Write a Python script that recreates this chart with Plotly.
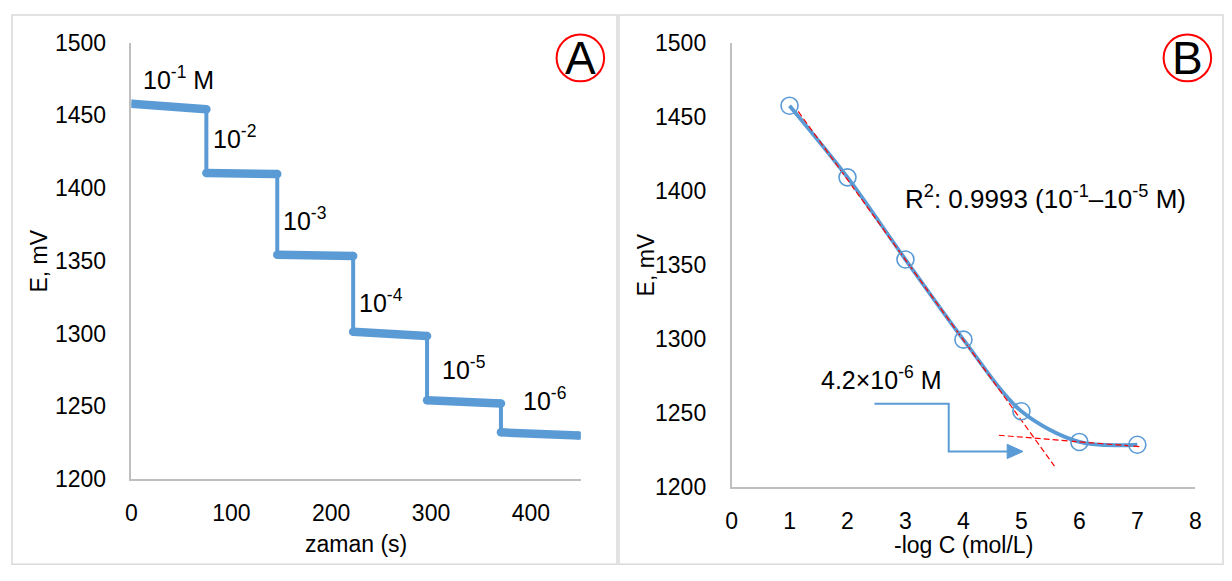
import plotly.graph_objects as go

W, H = 1232, 581
BLUE = "#5B9BD5"
FONT = "Liberation Sans"

# ---------------- Panel A data ----------------
step_times = [0, 75, 146, 222, 296, 370, 448]          # s
plateau_start = [1457.9, 1410.3, 1354.1, 1301.1, 1254.0, 1232.0]  # mV
plateau_end = [1454.1, 1409.7, 1353.3, 1298.2, 1251.8, 1229.8]    # mV
conc_labels = ["10<sup>-1</sup> M", "10<sup>-2</sup>", "10<sup>-3</sup>",
               "10<sup>-4</sup>", "10<sup>-5</sup>", "10<sup>-6</sup>"]
label_t = [9.2, 79.5, 149.8, 226.0, 309.3, 390.5]
label_e = [1476, 1435, 1379, 1322, 1276, 1255]

# ---------------- Panel B data ----------------
neg_log_c = [1, 2, 3, 4, 5, 6, 7]
potential = [1457.4, 1409.0, 1353.5, 1299.4, 1251.0, 1230.3, 1228.4]
fit1_x = [1.15, 5.57]
fit1_y = [1453.5, 1214.0]
fit2_x = [4.61, 7.07]
fit2_y = [1234.8, 1227.0]

def px(x):
    return x / W

def py(y):
    return 1 - y / H

fig = go.Figure()

# Panel A trace (steps)
ax_x, ax_y = [], []
for i in range(len(plateau_start)):
    ax_x += [step_times[i], step_times[i + 1]]
    ax_y += [plateau_start[i], plateau_end[i]]
fig.add_trace(go.Scatter(x=ax_x, y=ax_y, mode="lines",
                         line=dict(color=BLUE, width=4),
                         xaxis="x", yaxis="y", showlegend=False, hoverinfo="skip"))
for i in range(len(plateau_start)):
    fig.add_trace(go.Scatter(x=[step_times[i], step_times[i + 1]],
                             y=[plateau_start[i], plateau_end[i]],
                             mode="lines+markers",
                             line=dict(color=BLUE, width=8.5),
                             marker=dict(color=BLUE, size=8.5),
                             xaxis="x", yaxis="y", showlegend=False, hoverinfo="skip"))

# Panel B traces
fig.add_trace(go.Scatter(x=neg_log_c, y=potential, mode="lines",
                         line=dict(color=BLUE, width=3.8, shape="spline", smoothing=0.9),
                         xaxis="x2", yaxis="y2", showlegend=False))
fig.add_trace(go.Scatter(x=fit1_x, y=fit1_y, mode="lines",
                         line=dict(color="#FF0000", width=1.2, dash="6px,3px"),
                         xaxis="x2", yaxis="y2", showlegend=False))
fig.add_trace(go.Scatter(x=fit2_x, y=fit2_y, mode="lines",
                         line=dict(color="#FF0000", width=1.2, dash="6px,3px"),
                         xaxis="x2", yaxis="y2", showlegend=False))
fig.add_trace(go.Scatter(x=neg_log_c, y=potential, mode="markers",
                         marker=dict(symbol="circle-open", size=17,
                                     line=dict(color=BLUE, width=1.6), color=BLUE),
                         xaxis="x2", yaxis="y2", showlegend=False))

axis_common = dict(showgrid=False, zeroline=False, showline=True,
                   linecolor="#BFBFBF", linewidth=1.5, ticks="",
                   tickfont=dict(family=FONT, size=23, color="#000000"),
                   fixedrange=True)

fig.update_layout(
    width=W, height=H,
    margin=dict(l=0, r=0, t=0, b=0),
    paper_bgcolor="white", plot_bgcolor="white",
    font=dict(family=FONT, size=23, color="#000000"),
    xaxis=dict(domain=[px(126.7), px(580.5)], range=[0, 450], dtick=100,
               anchor="y", ticklabelstandoff=13, **axis_common),
    yaxis=dict(domain=[py(487.7), py(31)], range=[1200, 1500], dtick=50,
               anchor="x", ticklabelstandoff=19, **axis_common),
    xaxis2=dict(domain=[px(732.7), px(1201)], range=[0, 8], dtick=1,
                anchor="y2", ticklabelstandoff=13, **axis_common),
    yaxis2=dict(domain=[py(496), py(31)], range=[1200, 1500], dtick=50,
                anchor="x2", ticklabelstandoff=19, **axis_common),
)

ann = []
# Axis titles
ann.append(dict(x=px(353.6), y=py(556), xref="paper", yref="paper", text="zaman (s)",
                showarrow=False, xanchor="center", yanchor="middle"))
ann.append(dict(x=px(33), y=py(259.5), xref="paper", yref="paper", text="E, mV",
                showarrow=False, textangle=-90, xanchor="center", yanchor="middle"))
ann.append(dict(x=px(966.8), y=py(557), xref="paper", yref="paper", text="-log C (mol/L)",
                showarrow=False, xanchor="center", yanchor="middle"))
ann.append(dict(x=px(646), y=py(263.5), xref="paper", yref="paper", text="E, mV",
                showarrow=False, textangle=-90, xanchor="center", yanchor="middle"))
# Concentration labels in panel A
for t, e, s in zip(label_t, label_e, conc_labels):
    ann.append(dict(x=t, y=e, xref="x", yref="y", text=s, showarrow=False,
                    xanchor="left", yanchor="middle", font=dict(size=25)))
# Panel B texts
ann.append(dict(x=px(1050), y=py(193), xref="paper", yref="paper",
                text="R<sup>2</sup>: 0.9993 (10<sup>-1</sup>–10<sup>-5</sup> M)",
                showarrow=False, xanchor="center", yanchor="middle", font=dict(size=26)))
ann.append(dict(x=px(947), y=py(382), xref="paper", yref="paper",
                text="4.2×10<sup>-6</sup> M",
                showarrow=False, xanchor="right", yanchor="middle", font=dict(size=25)))
# Panel letters
ann.append(dict(x=px(580), y=py(47), xref="paper", yref="paper", text="A",
                showarrow=False, font=dict(size=46), xanchor="center", yanchor="middle"))
ann.append(dict(x=px(1193), y=py(47), xref="paper", yref="paper", text="B",
                showarrow=False, font=dict(size=46), xanchor="center", yanchor="middle"))
fig.update_layout(annotations=ann)

shapes = []
# panel frames
shapes.append(dict(type="rect", xref="paper", yref="paper",
                   x0=px(6), x1=px(617), y0=py(577), y1=py(2),
                   line=dict(color="#D9D9D9", width=1.5)))
shapes.append(dict(type="rect", xref="paper", yref="paper",
                   x0=px(619), x1=px(1229), y0=py(577), y1=py(2),
                   line=dict(color="#D9D9D9", width=1.5)))
# letter circles
shapes.append(dict(type="circle", xref="paper", yref="paper",
                   x0=px(556), x1=px(604), y0=py(71.5), y1=py(22.5),
                   line=dict(color="#FF0000", width=2)))
shapes.append(dict(type="circle", xref="paper", yref="paper",
                   x0=px(1169), x1=px(1217), y0=py(71.5), y1=py(22.5),
                   line=dict(color="#FF0000", width=2)))
# elbow connector arrow
path = (f"M {px(877)},{py(409)} L {px(952)},{py(409)} "
        f"L {px(952)},{py(459)} L {px(1012)},{py(459)}")
shapes.append(dict(type="path", xref="paper", yref="paper", path=path,
                   line=dict(color=BLUE, width=2)))
head = (f"M {px(1011)},{py(451.5)} L {px(1027)},{py(459)} "
        f"L {px(1011)},{py(466.5)} Z")
shapes.append(dict(type="path", xref="paper", yref="paper", path=head,
                   line=dict(color=BLUE, width=1), fillcolor=BLUE))
fig.update_layout(shapes=shapes)

fig.write_html("out.html",
               config={"displayModeBar": False},
               post_script="document.body.style.margin='0';document.body.style.overflow='hidden';")
